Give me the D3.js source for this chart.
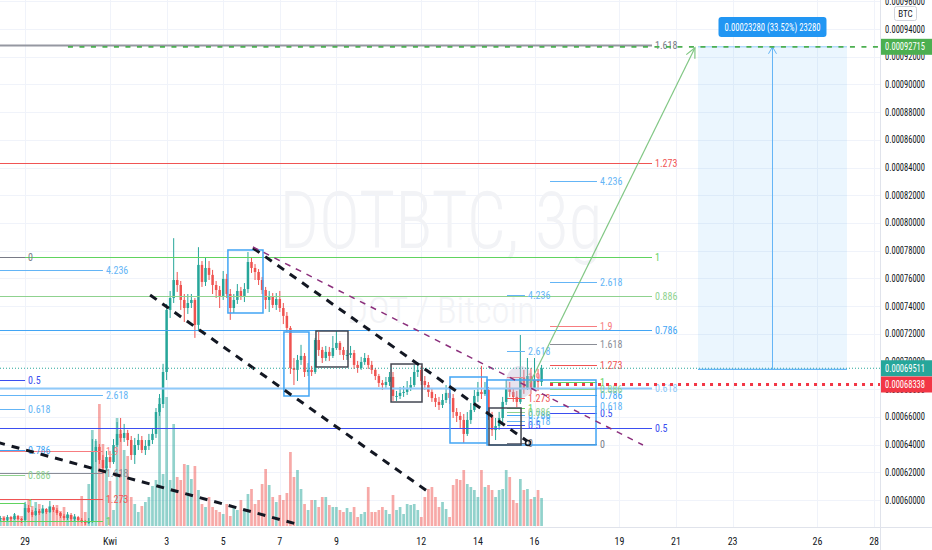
<!DOCTYPE html>
<html><head><meta charset="utf-8">
<script src="https://cdn.jsdelivr.net/npm/d3@7"></script>
<style>
html,body{margin:0;padding:0;background:#fff;}
svg{display:block;font-family:"Liberation Sans Narrow","Roboto Condensed","DejaVu Sans Condensed","Liberation Sans",sans-serif;}
</style></head><body><svg id="c" width="932" height="550"></svg>
<script>
// ---------- DATA (prices in satoshi, 1e-8 BTC) ----------
const firstOpen = 58630;
const closes = [58700,58560,58770,58630,58850,58630,58560,59420,59130,58920,
 59210,59060,59350,59130,59500,59280,59060,58850,58700,58920,
 58630,58770,58560,58480,58340,58480,63470,63830,62890,62310,
 63100,62740,63970,64770,64480,64840,64330,63250,63970,64330,
 63610,63900,64330,64770,66350,66930,69240,73720,74580,75880,
 75520,74440,73860,74220,74440,72640,76970,75740,76750,76250,
 75520,75160,74730,75960,74870,73860,74440,75090,74730,75230,
 77180,76750,76460,75880,75160,74440,74660,74080,74510,73860,
 73290,72420,69530,69390,70110,70400,69240,69390,69240,71550,
 70830,70250,70690,70400,70970,71340,70830,70470,70470,70610,
 69750,69530,69960,70250,69750,69390,68950,68450,68300,68520,
 68880,67510,67510,67730,67800,68090,68300,69240,69390,68590,
 68300,67800,67360,67080,66860,67220,67730,67360,66350,66070,
 65780,64770,65780,66500,67510,67800,67650,67940,66070,65050,
 65340,65920,67080,68090,67800,67440,67080,68810,68090,68950,
 68090,68660,68520,69511];
const highs = [58850,58770,58920,58850,59060,58920,58700,59860,59640,59280,
 59420,59350,59640,59420,59930,59640,59420,59130,58990,59130,
 59060,58990,58850,58700,58560,58700,64400,64400,64040,63250,
 63540,63540,64400,65630,65920,65490,65060,64620,64480,64770,
 64620,64330,64770,65200,66640,67650,69830,74150,75090,78900,
 76460,75810,74870,74870,74870,74580,78250,77250,77540,77250,
 76610,75810,75450,76530,76320,75230,74870,75590,75380,75660,
 77900,77540,77030,76670,76100,75380,75090,74940,74940,75090,
 74220,73570,72560,70250,70470,71200,70610,69890,69680,71700,
 72130,71050,71120,71050,71840,72270,71480,71050,70830,71120,
 70830,70040,70330,70610,70470,70040,69530,69100,68660,68880,
 69240,69240,67870,68160,68230,68590,68880,69750,69960,69680,
 68950,68520,68090,67650,67440,67650,68300,68020,67650,66640,
 66350,66210,66350,67000,67940,68520,69680,68520,68160,66360,
 65920,66360,67440,68660,68520,68020,67870,71910,69390,70250,
 69530,70250,69460,69750];
const lows = [58480,58410,58480,58480,58560,58560,58340,58480,59060,58770,
 58850,58920,59000,58990,59060,59130,58920,58700,58560,58560,
 58480,58480,58410,58340,58200,58270,58340,62740,62600,61880,
 62160,62310,62600,63830,64190,64190,63900,62890,62600,63610,
 63390,63250,63610,64040,64480,66070,66640,68660,73140,74220,
 75020,73720,72850,73430,73860,71700,72200,75380,75450,75880,
 74870,74580,73860,74440,74580,73000,73500,74150,74440,74290,
 74940,76390,75880,75520,74870,73790,73570,73860,73720,73570,
 72700,72130,69100,68300,68590,69750,68880,68950,68950,69100,
 70400,69890,70040,70040,70250,70830,70470,70110,70110,70250,
 69460,69180,69390,69750,69460,69100,68660,68160,67940,68090,
 68230,67150,67150,67290,67440,67580,67870,68160,68880,68300,
 67940,67440,67080,66710,66500,66640,67000,66930,65920,65630,
 65200,64120,64620,65490,66350,67080,67290,67510,65780,64620,
 64330,65060,65630,66860,67440,67080,66710,66930,67660,67940,
 67650,68090,67870,68230];
const volumes = [8,10,6,9,12,8,10,22,26,20,
 24,22,18,15,20,18,21,15,19,12,
 11,10,8,30,14,42,96,85,122,82,
 60,45,16,108,96,76,70,29,22,14,
 20,24,29,40,46,128,52,129,46,102,
 49,46,62,61,47,60,36,22,19,29,
 19,16,14,12,22,10,19,16,26,17,
 32,37,22,26,42,57,41,29,24,31,
 26,33,74,49,56,37,22,16,26,26,
 19,29,29,21,19,19,16,14,18,14,
 19,9,12,14,39,14,14,16,19,16,
 12,31,16,19,12,22,21,22,16,9,
 29,37,39,29,19,24,17,9,41,47,
 46,56,42,39,36,29,56,39,41,36,
 29,36,37,56,49,26,23,47,36,37,
 27,29,36,28];
const seriesStart = '2021-03-28T00:00';
const barHours = 3;

const priceTicks = [60000,62000,64000,66000,68000,70000,72000,74000,76000,78000,80000,82000,84000,86000,88000,90000,92000,94000,96000];
const timeTicks = ['2021-03-29','2021-04-01','2021-04-03','2021-04-05','2021-04-07','2021-04-09','2021-04-12','2021-04-14','2021-04-16','2021-04-19','2021-04-21','2021-04-23','2021-04-26','2021-04-28'];
const timeLabels = ['29','Kwi','3','5','7','9','12','14','16','19','21','23','26','28'];

// Fibonacci tools: [price at level 0, price at level 1]
const fibMainAnchor = [52831, 77563];
const fibMainLevels = ['0.5','0.618','0.786','0.886','1','1.273','1.618'];
const fibMainEnd = '2021-04-20T03:40';
const fibLeft1Anchor = [77563, 59783];
const fibLeft1Levels = ['0','0.5','0.618','0.786','0.886','1'];
const fibLeft1End = '2021-03-29T00:00';
const fibLeft2Anchor = [52926, 58520];
const fibLeft2Levels = ['1','1.273','1.618','1.9','2.618','4.236'];
const fibLeft2End = '2021-03-31T18:00';
const fibAAnchor = [64042, 68518];
const fibALevels = ['0','0.5','0.618','0.786','0.886','1','1.273','1.618','1.9','2.618','4.236'];
const fibASpan = ['2021-04-16T13:10','2021-04-18T05:00'];
const fibBAnchor = [64115, 66641];
const fibBLevels = ['0','0.5','0.618','0.786','0.886','1','1.273','1.9','2.618','4.236'];
const fibBSpan = ['2021-04-15T00:40','2021-04-15T15:55'];

// Rectangles: [start, end, top price, bottom price]
const blueBoxes = [
 ['2021-04-05T04:00','2021-04-06T09:45',78047,73499],
 ['2021-04-07T03:30','2021-04-08T00:45',72127,67507],
 ['2021-04-13T00:20','2021-04-14T07:45',68879,64115],
 ['2021-04-14T07:45','2021-04-18T04:10',68663,63970]
];
const blackBoxes = [
 ['2021-04-08T06:40','2021-04-09T09:50',72199,69601],
 ['2021-04-10T22:20','2021-04-12T00:35',69817,67074],
 ['2021-04-14T09:25','2021-04-15T12:35',66641,63970]
];
// Trend lines: [t1, p1, t2, p2]
const blackTrendLines = [
 ['2021-04-02T10:00',74798,'2021-04-12T07:20',60505],
 ['2021-04-06T01:15',78191,'2021-04-15T17:40',64259],
 ['2021-03-27T12:00',64454,'2021-04-07T17:10',58195]
];
const channelLine = ['2021-04-06T01:15',78263,'2021-04-19T20:00',63970];
const arrowLine = ['2021-04-15T20:10',68446,'2021-04-21T16:05',92640];
const targetPrice = 92715, targetStart = '2021-03-30T12:20';
const posEntry = 69435, posTarget = 92715, posSpan = ['2021-04-21T18:40','2021-04-27T01:00'];
const posLabel = '0.00023280 (33.52%) 23280';
const stopPrice = 68338, stopStart = '2021-04-16T13:10';
const markerPoint = ['2021-04-15T18:30', 64115];
const blobPoint = ['2021-04-15T11:40', 68518];

// ---------- SCALES ----------
const T = s => new Date(s.length === 10 ? s + 'T00:00Z' : s + 'Z');
const x = d3.scaleUtc().domain([T('2021-03-28'), T('2021-04-28')]).range([-3.2, 874.1]);
const y = d3.scaleLinear().domain([60000, 94000]).range([500, 29]);
const yv = d3.scaleLinear().domain([0, 135]).range([526, 391]);
const PW = 880, PH = 527;
const fmt = v => (v / 1e8).toFixed(8);

const bars = closes.map((c, i) => ({
  t: new Date(T(seriesStart).getTime() + (i + 1) * barHours * 3600e3),
  o: i === 0 ? firstOpen : closes[i - 1], h: highs[i], l: lows[i], c, v: volumes[i]
}));

const svg = d3.select('#c');
svg.append('defs').append('clipPath').attr('id', 'pc').append('rect').attr('width', PW).attr('height', PH);
const plot = svg.append('g').attr('clip-path', 'url(#pc)');

// grid
plot.selectAll('.gh').data(priceTicks).join('line').attr('x1', 0).attr('x2', PW)
  .attr('y1', d => Math.round(y(d)) + 0.5).attr('y2', d => Math.round(y(d)) + 0.5).attr('stroke', '#f0f3fa');
plot.selectAll('.gv').data(timeTicks).join('line').attr('y1', 0).attr('y2', PH)
  .attr('x1', d => Math.round(x(T(d))) + 0.5).attr('x2', d => Math.round(x(T(d))) + 0.5).attr('stroke', '#f0f3fa');

// watermark
plot.append('text').attr('x', 441).attr('y', 248).attr('text-anchor', 'middle')
  .attr('font-size', 80).attr('font-weight', 300).attr('fill', '#f2f3f6')
  .attr('textLength', 323).attr('lengthAdjust', 'spacingAndGlyphs').text('DOTBTC, 3g');
plot.append('text').attr('x', 441).attr('y', 323).attr('text-anchor', 'middle')
  .attr('font-size', 36).attr('font-weight', 300).attr('fill', '#f2f3f6')
  .attr('textLength', 188).attr('lengthAdjust', 'spacingAndGlyphs').text('DOT / Bitcoin');

const up = '#26a69a', dn = '#ef5350';
// volume
plot.selectAll('.vol').data(bars).join('rect')
  .attr('x', d => x(d.t) - 1.35).attr('width', 2.7)
  .attr('y', d => yv(d.v)).attr('height', d => yv(0) - yv(d.v))
  .attr('fill', d => d.c >= d.o ? 'rgba(38,166,154,0.5)' : 'rgba(239,83,80,0.5)');
// candles
const cg = plot.append('g');
cg.selectAll('.wk').data(bars).join('line')
  .attr('x1', d => x(d.t)).attr('x2', d => x(d.t))
  .attr('y1', d => y(d.h)).attr('y2', d => y(d.l))
  .attr('stroke', d => d.c >= d.o ? up : dn).attr('stroke-width', 1);
cg.selectAll('.bd').data(bars).join('rect')
  .attr('x', d => x(d.t) - 1.25).attr('width', 2.5)
  .attr('y', d => y(Math.max(d.o, d.c)))
  .attr('height', d => Math.max(1, Math.abs(y(d.o) - y(d.c))))
  .attr('fill', d => d.c >= d.o ? up : dn);

// fib colours
const lvlColor = {'0':'#787b86','0.5':'#3b4ef0','0.618':'#64b5f6','0.786':'#42a5f5','0.886':'#8fd28f',
  '1':'#5fd35f','1.273':'#f05454','1.618':'#8a8d96','1.9':'#f77c80','2.618':'#64b5f6','4.236':'#64b5f6'};
const dg = plot.append('g');
function fib(anchor, levels, x0, x1, opts = {}) {
  levels.forEach(L => {
    const p = anchor[0] + (anchor[1] - anchor[0]) * (+L);
    const yy = Math.round(y(p)) + 0.5;
    let col = lvlColor[L];
    let w = 1;
    if (opts.main && L === '0.618') { col = '#90caf9'; w = 2; }
    if (opts.main && L === '1.618') { col = '#9598a1'; w = 2; }
    dg.append('line').attr('x1', x0).attr('x2', x1).attr('y1', yy).attr('y2', yy)
      .attr('stroke', col).attr('stroke-width', w);
    dg.append('text').attr('x', x1 + 3).attr('y', yy).attr('dy', '0.35em')
      .attr('font-size', 10).attr('fill', opts.main && L === '1.618' ? '#787b86' : col).text(L);
  });
}
fib(fibMainAnchor, fibMainLevels, 0, x(T(fibMainEnd)), {main: true});
fib(fibLeft2Anchor, fibLeft2Levels, 0, x(T(fibLeft2End)));
fib(fibLeft1Anchor, fibLeft1Levels, 0, x(T(fibLeft1End)));
fib(fibAAnchor, fibALevels, x(T(fibASpan[0])), x(T(fibASpan[1])));
fib(fibBAnchor, fibBLevels, x(T(fibBSpan[0])), x(T(fibBSpan[1])));

// blob highlight
dg.append('ellipse').attr('cx', x(T(blobPoint[0]))).attr('cy', y(blobPoint[1]))
  .attr('rx', 14).attr('ry', 16).attr('fill', 'rgba(185,175,205,0.35)');

// boxes
function box(b, col) {
  const x0 = x(T(b[0])), x1 = x(T(b[1])), y0 = y(b[2]), y1 = y(b[3]);
  dg.append('rect').attr('x', x0).attr('y', y0).attr('width', x1 - x0).attr('height', y1 - y0)
    .attr('fill', 'none').attr('stroke', col).attr('stroke-width', 1.5);
}
blueBoxes.forEach(b => box(b, '#42a5f5'));
blackBoxes.forEach(b => box(b, '#434651'));

// trend lines
blackTrendLines.forEach(l => {
  dg.append('line').attr('x1', x(T(l[0]))).attr('y1', y(l[1])).attr('x2', x(T(l[2]))).attr('y2', y(l[3]))
    .attr('stroke', '#131722').attr('stroke-width', 3).attr('stroke-dasharray', '8,7');
});
dg.append('line').attr('x1', x(T(channelLine[0]))).attr('y1', y(channelLine[1]))
  .attr('x2', x(T(channelLine[2]))).attr('y2', y(channelLine[3]))
  .attr('stroke', '#8b2f7c').attr('stroke-width', 1.5).attr('stroke-dasharray', '6,6');
dg.append('circle').attr('cx', x(T(markerPoint[0]))).attr('cy', y(markerPoint[1])).attr('r', 2.5)
  .attr('fill', 'none').attr('stroke', '#131722').attr('stroke-width', 1.5);

// current price line
const last = bars[bars.length - 1].c;
dg.append('line').attr('x1', 0).attr('x2', PW).attr('y1', y(last)).attr('y2', y(last))
  .attr('stroke', up).attr('stroke-width', 1).attr('stroke-dasharray', '1,2');

// projection (long position)
const px0 = x(T(posSpan[0])), px1 = x(T(posSpan[1]));
const pyT = y(posTarget), pyE = y(posEntry);
dg.append('rect').attr('x', px0).attr('y', pyT).attr('width', px1 - px0).attr('height', pyE - pyT)
  .attr('fill', 'rgba(33,150,243,0.09)');
dg.append('line').attr('x1', px0).attr('x2', px1).attr('y1', pyE).attr('y2', pyE).attr('stroke', '#42a5f5').attr('stroke-width', 1);
dg.append('line').attr('x1', px0).attr('x2', px1).attr('y1', pyT).attr('y2', pyT).attr('stroke', '#90caf9').attr('stroke-width', 1);
const pxm = (px0 + px1) / 2;
dg.append('line').attr('x1', pxm).attr('x2', pxm).attr('y1', pyE).attr('y2', pyT).attr('stroke', '#64b5f6');
dg.append('path').attr('d', `M${pxm-4},${pyT+7}L${pxm},${pyT}L${pxm+4},${pyT+7}`).attr('fill', 'none').attr('stroke', '#64b5f6');

// target dashed line
dg.append('line').attr('x1', x(T(targetStart))).attr('x2', PW).attr('y1', y(targetPrice)).attr('y2', y(targetPrice))
  .attr('stroke', '#4caf50').attr('stroke-width', 1.8).attr('stroke-dasharray', '5,6.5');

// green arrow
const ax0 = x(T(arrowLine[0])), ay0 = y(arrowLine[1]), ax1 = x(T(arrowLine[2])), ay1 = y(arrowLine[3]);
dg.append('line').attr('x1', ax0).attr('y1', ay0).attr('x2', ax1).attr('y2', ay1).attr('stroke', '#81c784').attr('stroke-width', 1.2);
const ang = Math.atan2(ay1 - ay0, ax1 - ax0);
const ah = 11, aw = 0.45;
dg.append('path').attr('d', `M${ax1 - ah*Math.cos(ang-aw)},${ay1 - ah*Math.sin(ang-aw)}L${ax1},${ay1}L${ax1 - ah*Math.cos(ang+aw)},${ay1 - ah*Math.sin(ang+aw)}`)
  .attr('fill', 'none').attr('stroke', '#81c784').attr('stroke-width', 1.2);

// stop dotted
dg.append('line').attr('x1', x(T(stopStart))).attr('x2', PW).attr('y1', y(stopPrice)).attr('y2', y(stopPrice))
  .attr('stroke', '#f23645').attr('stroke-width', 3).attr('stroke-dasharray', '3,5');

// position label
dg.append('rect').attr('x', pxm - 54).attr('y', 17).attr('width', 108).attr('height', 20).attr('rx', 3).attr('fill', '#2196f3');
dg.append('text').attr('x', pxm).attr('y', 27).attr('dy', '0.35em').attr('text-anchor', 'middle')
  .attr('font-size', 10).attr('fill', '#fff').attr('textLength', 96).attr('lengthAdjust', 'spacingAndGlyphs').text(posLabel);

// ---------- AXES ----------
svg.append('line').attr('x1', PW + 0.5).attr('x2', PW + 0.5).attr('y1', 0).attr('y2', 550).attr('stroke', '#e0e3eb');
svg.append('line').attr('x1', 0).attr('x2', 932).attr('y1', PH + 0.5).attr('y2', PH + 0.5).attr('stroke', '#e0e3eb');
const ax = svg.append('g');
ax.selectAll('.pt').data(priceTicks).join('text').attr('x', 885).attr('y', d => y(d)).attr('dy', '0.35em')
  .attr('font-size', 10).attr('fill', '#131722').attr('textLength', 40).attr('lengthAdjust', 'spacingAndGlyphs').text(fmt);
ax.selectAll('.tt').data(timeTicks).join('text').attr('x', (d) => x(T(d))).attr('y', 541).attr('dy', '0.35em')
  .attr('text-anchor', 'middle').attr('font-size', 10).attr('fill', '#131722').text((d, i) => timeLabels[i]);

function priceTag(p, col) {
  ax.append('rect').attr('x', PW + 1).attr('y', y(p) - 8).attr('width', 51).attr('height', 16).attr('fill', col);
  ax.append('text').attr('x', 885).attr('y', y(p)).attr('dy', '0.35em').attr('font-size', 10).attr('fill', '#fff')
    .attr('textLength', 40).attr('lengthAdjust', 'spacingAndGlyphs').text(fmt(p));
}
priceTag(targetPrice, '#4caf50');
priceTag(last, up);
priceTag(stopPrice, '#f23645');

ax.append('rect').attr('x', 894.5).attr('y', 6.5).attr('width', 22).attr('height', 14).attr('rx', 2)
  .attr('fill', '#fff').attr('stroke', '#d1d4dc');
ax.append('text').attr('x', 905.5).attr('y', 13.5).attr('dy', '0.35em').attr('text-anchor', 'middle')
  .attr('font-size', 9).attr('fill', '#131722').text('BTC');
</script></body></html>
